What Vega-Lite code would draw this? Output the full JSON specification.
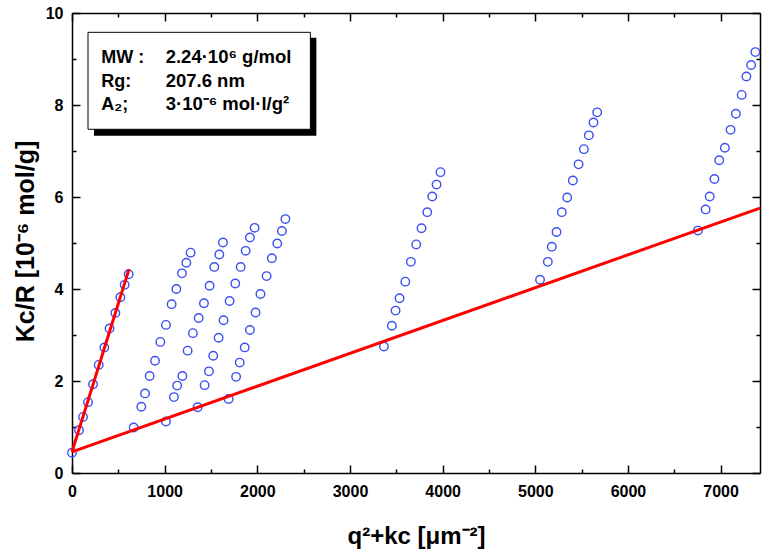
{
  "$schema": "https://vega.github.io/schema/vega-lite/v6.json",
  "width": 688,
  "height": 460,
  "autosize": "none",
  "padding": {"left": 72, "top": 13, "right": 2, "bottom": 84},
  "background": "white",
  "config": {
    "view": {"stroke": null},
    "font": "Liberation Sans",
    "axis": {
      "grid": false,
      "domainColor": "black",
      "domainWidth": 1.5,
      "tickColor": "black",
      "tickWidth": 1.5,
      "labelFont": "Liberation Sans",
      "labelFontWeight": "bold",
      "labelFontSize": 16,
      "labelColor": "black",
      "titleFont": "Liberation Sans",
      "titleFontWeight": "bold",
      "titleColor": "black",
      "labelFlush": false,
      "labelOverlap": false
    }
  },
  "datasets": {
    "pts": [
      {"s": 0, "x": 0, "y": 0.44}, {"s": 0, "x": 76, "y": 0.93}, {"s": 0, "x": 119, "y": 1.22}, {"s": 0, "x": 173, "y": 1.54}, {"s": 0, "x": 227, "y": 1.93}, {"s": 0, "x": 288, "y": 2.35}, {"s": 0, "x": 349, "y": 2.73}, {"s": 0, "x": 405, "y": 3.14}, {"s": 0, "x": 468, "y": 3.48}, {"s": 0, "x": 522, "y": 3.82}, {"s": 0, "x": 568, "y": 4.09}, {"s": 0, "x": 612, "y": 4.32},
      {"s": 1, "x": 666, "y": 0.99}, {"s": 1, "x": 748, "y": 1.44}, {"s": 1, "x": 788, "y": 1.73}, {"s": 1, "x": 838, "y": 2.11}, {"s": 1, "x": 896, "y": 2.44}, {"s": 1, "x": 953, "y": 2.85}, {"s": 1, "x": 1014, "y": 3.22}, {"s": 1, "x": 1075, "y": 3.67}, {"s": 1, "x": 1126, "y": 4.0}, {"s": 1, "x": 1187, "y": 4.34}, {"s": 1, "x": 1234, "y": 4.57}, {"s": 1, "x": 1280, "y": 4.79},
      {"s": 2, "x": 1014, "y": 1.12}, {"s": 2, "x": 1100, "y": 1.65}, {"s": 2, "x": 1135, "y": 1.9}, {"s": 2, "x": 1191, "y": 2.11}, {"s": 2, "x": 1248, "y": 2.66}, {"s": 2, "x": 1305, "y": 3.04}, {"s": 2, "x": 1367, "y": 3.37}, {"s": 2, "x": 1424, "y": 3.69}, {"s": 2, "x": 1485, "y": 4.07}, {"s": 2, "x": 1536, "y": 4.48}, {"s": 2, "x": 1590, "y": 4.75}, {"s": 2, "x": 1629, "y": 5.01},
      {"s": 3, "x": 1356, "y": 1.43}, {"s": 3, "x": 1431, "y": 1.91}, {"s": 3, "x": 1478, "y": 2.21}, {"s": 3, "x": 1524, "y": 2.55}, {"s": 3, "x": 1582, "y": 2.94}, {"s": 3, "x": 1636, "y": 3.32}, {"s": 3, "x": 1701, "y": 3.74}, {"s": 3, "x": 1762, "y": 4.12}, {"s": 3, "x": 1820, "y": 4.48}, {"s": 3, "x": 1874, "y": 4.83}, {"s": 3, "x": 1920, "y": 5.12}, {"s": 3, "x": 1971, "y": 5.33},
      {"s": 4, "x": 1690, "y": 1.61}, {"s": 4, "x": 1771, "y": 2.09}, {"s": 4, "x": 1810, "y": 2.4}, {"s": 4, "x": 1864, "y": 2.73}, {"s": 4, "x": 1920, "y": 3.11}, {"s": 4, "x": 1981, "y": 3.49}, {"s": 4, "x": 2034, "y": 3.89}, {"s": 4, "x": 2100, "y": 4.28}, {"s": 4, "x": 2157, "y": 4.67}, {"s": 4, "x": 2215, "y": 4.99}, {"s": 4, "x": 2265, "y": 5.26}, {"s": 4, "x": 2303, "y": 5.52},
      {"s": 5, "x": 3366, "y": 2.75}, {"s": 5, "x": 3452, "y": 3.2}, {"s": 5, "x": 3492, "y": 3.53}, {"s": 5, "x": 3535, "y": 3.8}, {"s": 5, "x": 3597, "y": 4.16}, {"s": 5, "x": 3657, "y": 4.59}, {"s": 5, "x": 3715, "y": 4.97}, {"s": 5, "x": 3772, "y": 5.32}, {"s": 5, "x": 3834, "y": 5.67}, {"s": 5, "x": 3888, "y": 6.01}, {"s": 5, "x": 3934, "y": 6.27}, {"s": 5, "x": 3977, "y": 6.54},
      {"s": 6, "x": 5051, "y": 4.2}, {"s": 6, "x": 5135, "y": 4.59}, {"s": 6, "x": 5178, "y": 4.92}, {"s": 6, "x": 5229, "y": 5.24}, {"s": 6, "x": 5286, "y": 5.67}, {"s": 6, "x": 5344, "y": 5.99}, {"s": 6, "x": 5405, "y": 6.36}, {"s": 6, "x": 5467, "y": 6.71}, {"s": 6, "x": 5524, "y": 7.04}, {"s": 6, "x": 5578, "y": 7.34}, {"s": 6, "x": 5628, "y": 7.62}, {"s": 6, "x": 5668, "y": 7.84},
      {"s": 7, "x": 6755, "y": 5.27}, {"s": 7, "x": 6838, "y": 5.73}, {"s": 7, "x": 6882, "y": 6.01}, {"s": 7, "x": 6933, "y": 6.39}, {"s": 7, "x": 6985, "y": 6.8}, {"s": 7, "x": 7046, "y": 7.07}, {"s": 7, "x": 7107, "y": 7.46}, {"s": 7, "x": 7165, "y": 7.81}, {"s": 7, "x": 7227, "y": 8.22}, {"s": 7, "x": 7278, "y": 8.62}, {"s": 7, "x": 7329, "y": 8.87}, {"s": 7, "x": 7375, "y": 9.15}
    ],
    "fits": [
      {"line": "c0", "x": 0, "y": 0.46}, {"line": "c0", "x": 615, "y": 4.43},
      {"line": "q0", "x": 0, "y": 0.46}, {"line": "q0", "x": 7425, "y": 5.76}
    ]
  },
  "resolve": {"axis": {"x": "independent", "y": "independent"}},
  "layer": [
    {
      "data": {"values": [{}]},
      "mark": {"type": "rect", "fill": "black"},
      "encoding": {
        "x": {"datum": 237.4, "type": "quantitative", "axis": null, "scale": {"domain": [0, 7425], "nice": false, "zero": false}},
        "x2": {"datum": 2637},
        "y": {"datum": 7.333, "type": "quantitative", "axis": null, "scale": {"domain": [0, 10], "nice": false, "zero": false}},
        "y2": {"datum": 9.463}
      }
    },
    {
      "data": {"values": [{}]},
      "mark": {"type": "rect", "fill": "white", "stroke": "black", "strokeWidth": 1},
      "encoding": {
        "x": {"datum": 172.7, "type": "quantitative", "axis": null, "scale": {"domain": [0, 7425], "nice": false, "zero": false}},
        "x2": {"datum": 2572.6},
        "y": {"datum": 7.472, "type": "quantitative", "axis": null, "scale": {"domain": [0, 10], "nice": false, "zero": false}},
        "y2": {"datum": 9.58}
      }
    },
    {
      "data": {"values": [{}]},
      "mark": {"type": "text", "text": ["MW :", "Rg:", "A₂;"], "lineHeight": 23.5, "align": "left", "baseline": "alphabetic", "fontSize": 18, "fontWeight": "bold", "font": "Liberation Sans", "color": "black"},
      "encoding": {
        "x": {"datum": 317, "type": "quantitative", "axis": null, "scale": {"domain": [0, 7425], "nice": false, "zero": false}},
        "y": {"datum": 8.907, "type": "quantitative", "axis": null, "scale": {"domain": [0, 10], "nice": false, "zero": false}}
      }
    },
    {
      "data": {"values": [{}]},
      "mark": {"type": "text", "text": ["2.24·10⁶ g/mol", "207.6 nm", "3·10⁻⁶ mol·l/g²"], "lineHeight": 23.5, "align": "left", "baseline": "alphabetic", "fontSize": 18.5, "fontWeight": "bold", "font": "Liberation Sans", "color": "black"},
      "encoding": {
        "x": {"datum": 1011, "type": "quantitative", "axis": null, "scale": {"domain": [0, 7425], "nice": false, "zero": false}},
        "y": {"datum": 8.907, "type": "quantitative", "axis": null, "scale": {"domain": [0, 10], "nice": false, "zero": false}}
      }
    },
    {
      "data": {"name": "pts"},
      "mark": {"type": "point", "shape": "circle", "filled": false, "color": "#3a4ff0", "size": 72, "strokeWidth": 1.4, "opacity": 1},
      "encoding": {
        "x": {
          "field": "x", "type": "quantitative",
          "scale": {"domain": [0, 7425], "nice": false, "zero": false},
          "axis": {
            "orient": "bottom",
            "values": [0, 500, 1000, 1500, 2000, 2500, 3000, 3500, 4000, 4500, 5000, 5500, 6000, 6500, 7000],
            "format": "d",
            "tickSize": {"condition": {"test": "datum.value % 1000 === 0", "value": -8}, "value": -4},
            "labelExpr": "datum.value % 1000 === 0 ? datum.label : ''",
            "labelPadding": 18,
            "title": "q²+kc [μm⁻²]",
            "titleFontSize": 24,
            "titleY": 70,
            "titleBaseline": "alphabetic"
          }
        },
        "y": {
          "field": "y", "type": "quantitative",
          "scale": {"domain": [0, 10], "nice": false, "zero": false},
          "axis": {
            "orient": "left",
            "values": [0, 1, 2, 3, 4, 5, 6, 7, 8, 9, 10],
            "format": "d",
            "tickSize": {"condition": {"test": "datum.value % 2 === 0", "value": -8}, "value": -4},
            "labelExpr": "datum.value % 2 === 0 ? datum.label : ''",
            "labelPadding": 17,
            "title": "Kc/R [10⁻⁶ mol/g]",
            "titleFontSize": 25,
            "titleX": -39,
            "titleY": 228,
            "titleAngle": 270,
            "titleAlign": "center",
            "titleBaseline": "alphabetic"
          }
        }
      }
    },
    {
      "data": {"name": "fits"},
      "mark": {"type": "line", "color": "#ff0000", "strokeWidth": 3},
      "encoding": {
        "detail": {"field": "line", "type": "nominal"},
        "x": {
          "field": "x", "type": "quantitative",
          "scale": {"domain": [0, 7425], "nice": false, "zero": false},
          "axis": {
            "orient": "top",
            "values": [0, 500, 1000, 1500, 2000, 2500, 3000, 3500, 4000, 4500, 5000, 5500, 6000, 6500, 7000],
            "tickSize": {"condition": {"test": "datum.value % 1000 === 0", "value": -8}, "value": -4},
            "labels": false,
            "title": null
          }
        },
        "y": {
          "field": "y", "type": "quantitative",
          "scale": {"domain": [0, 10], "nice": false, "zero": false},
          "axis": {
            "orient": "right",
            "values": [0, 1, 2, 3, 4, 5, 6, 7, 8, 9, 10],
            "tickSize": {"condition": {"test": "datum.value % 2 === 0", "value": -8}, "value": -4},
            "labels": false,
            "title": null
          }
        }
      }
    }
  ]
}
